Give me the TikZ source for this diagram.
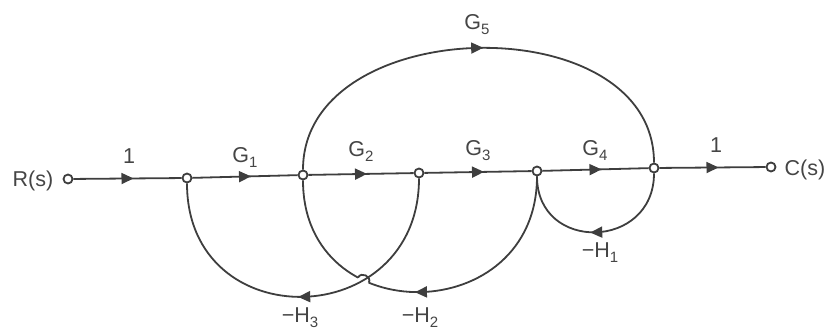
\documentclass[tikz,border=0pt]{standalone}
\usepackage{fontspec}
\setmainfont{Liberation Sans}
\usetikzlibrary{arrows.meta,decorations.markings,intersections,calc}
\definecolor{lc}{HTML}{3E3E3E}
\definecolor{tc}{HTML}{454545}
\newcommand\mysub[1]{\raisebox{-5pt}{\fontsize{15}{15}\selectfont #1}}
\begin{document}
\begin{tikzpicture}[x=1pt,y=-1pt,line width=1.8pt,
  lbl/.style={font=\fontsize{21.5}{24}\selectfont, text=tc, inner sep=0pt, anchor=base},
  sig/.style={circle, draw=lc, fill=white, line width=1.8pt, minimum size=9pt, inner sep=0pt},
  br/.style={draw=lc, postaction={decorate}, decoration={markings, mark=at position 0.5 with {\arrow[xshift=6pt]{Triangle[length=12pt,width=11pt]}}}}]
\useasboundingbox (0,0) rectangle (832,334);
% signal nodes
\node[sig] (R) at (68,179) {};
\node[sig] (n1) at (187,178) {};
\node[sig] (n2) at (303,175) {};
\node[sig] (n3) at (419,173) {};
\node[sig] (n4) at (537,171) {};
\node[sig] (n5) at (654,168) {};
\node[sig] (C) at (771,167) {};
% forward branches
\draw[br] (R) -- (n1);
\draw[br] (n1) -- (n2);
\draw[br] (n2) -- (n3);
\draw[br] (n3) -- (n4);
\draw[br] (n4) -- (n5);
\draw[br] (n5) -- (C);
% G5
\draw[br] (n2) .. controls +(0,-163) and +(0,-163) .. (n5);
% H1
\draw[br] (n5) .. controls +(0,82) and +(0,82) .. (n4);
% H3
\draw[br, name path=hthree] (n3) .. controls +(0,160) and +(0,160) .. (n1);
% H2 with hop over H3
\path[name path=htwo] (n4) .. controls +(0,157) and +(0,157) .. (n2);
\path[name intersections={of=htwo and hthree, by=X}];
\path[name path=hopc] (X) circle (6);
\path[name intersections={of=htwo and hopc, by={A,B}}];
\begin{scope}[even odd rule]
  \clip (0,0) rectangle (832,334) (X) circle (6);
  \draw[br] (n4) .. controls +(0,157) and +(0,157) .. (n2);
\end{scope}
\draw[lc] (A) .. controls ($(A)!7pt!-90:(B)$) and ($(B)!7pt!90:(A)$) .. (B);
% labels
\node[lbl] (tR) at (33,186) {R(s)};
\node[lbl] (tC) at (805,175) {C(s)};
\node[lbl] (l1) at (129,163) {1};
\node[lbl] (lG1) at (245,162) {G\mysub{1}};
\node[lbl] (lG2) at (361,157) {G\mysub{2}};
\node[lbl] (lG3) at (478,155) {G\mysub{3}};
\node[lbl] (lG4) at (595,155) {G\mysub{4}};
\node[lbl] (l2) at (716,153) {1};
\node[lbl] (lG5) at (477,30) {G\mysub{5}};
\node[lbl] (lH1) at (600,257) {−H\mysub{1}};
\node[lbl] (lH3) at (300,322) {−H\mysub{3}};
\node[lbl] (lH2) at (420,322) {−H\mysub{2}};
\end{tikzpicture}
\end{document}
